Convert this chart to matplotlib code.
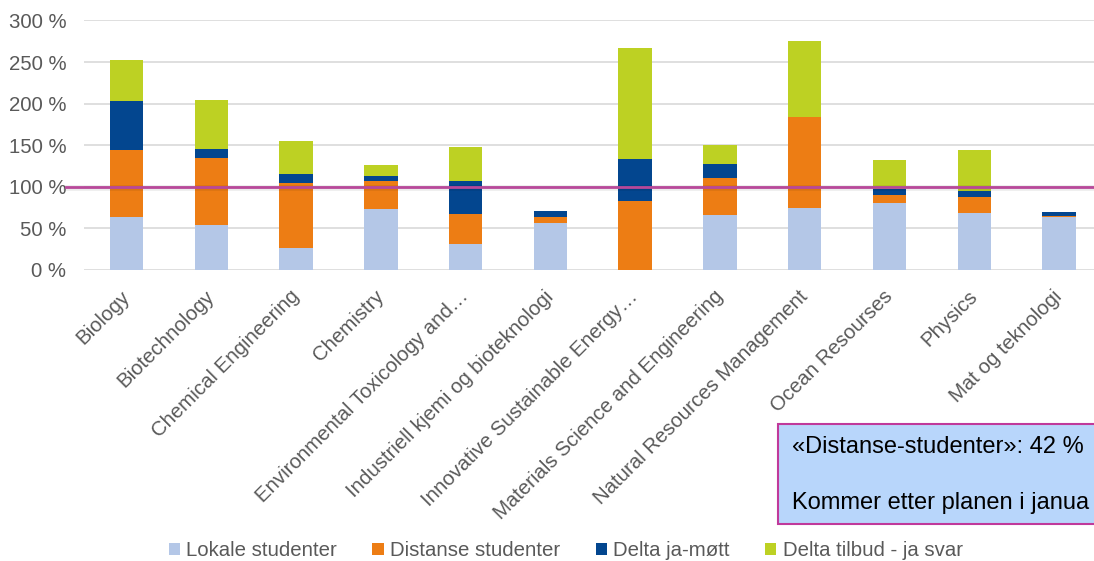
import numpy as np
import matplotlib.pyplot as plt
from matplotlib.patches import Patch, Rectangle
from matplotlib.lines import Line2D

plt.rcParams['font.family'] = ['Liberation Sans', 'DejaVu Sans']

categories = [
    "Biology", "Biotechnology", "Chemical Engineering", "Chemistry",
    "Environmental Toxicology and\u2026", "Industriell kjemi og bioteknologi",
    "Innovative Sustainable Energy\u2026", "Materials Science and Engineering",
    "Natural Resources Management", "Ocean Resourses", "Physics",
    "Mat og teknologi",
]
lokale = [64, 54, 27, 73, 31, 57, 0, 66, 75, 81, 68, 64]
distanse = [80, 81, 78, 34, 36, 7, 83, 45, 109, 9, 20, 0.5]
delta_mott = [59, 10, 11, 6, 40, 7, 50, 17, 0, 7, 7, 5.5]
delta_tilbud = [49, 60, 39, 13, 41, 0, 134, 22, 91, 35, 49, 0]
series_names = ["Lokale studenter", "Distanse studenter", "Delta ja-m\u00f8tt",
                "Delta tilbud - ja svar"]
colors = ["#b4c7e7", "#ed7d14", "#03468f", "#bdd123"]
yticks = [0, 50, 100, 150, 200, 250, 300]

grey = "#595959"


def main():
    W, H = 1094, 561
    fig = plt.figure(figsize=(W / 100, H / 100), dpi=100)
    ax = fig.add_axes([84.2 / W, 1 - 270 / H, (1101.4 - 84.2) / W, (270 - 20.5) / H])

    x = np.arange(len(categories))
    bottom = np.zeros(len(categories))
    for vals, col in zip([lokale, distanse, delta_mott, delta_tilbud], colors):
        vals = np.array(vals, dtype=float)
        ax.bar(x, vals, 0.395, bottom=bottom, color=col, zorder=3)
        bottom += vals

    ax.set_xlim(-0.5, len(categories) - 0.5)
    ax.set_ylim(0, 300)
    ax.set_yticks(yticks)
    ax.set_yticklabels([f"{v} %" for v in yticks])
    ax.grid(axis="y", color="#d9d9d9", lw=1.2, zorder=0)
    for s in ax.spines.values():
        s.set_visible(False)
    ax.tick_params(axis="y", length=0, pad=13, labelsize=14.7, labelcolor=grey)
    ax.tick_params(axis="x", length=0, pad=17, labelsize=14.7, labelcolor=grey)
    ax.set_xticks(x)
    ax.set_xticklabels(categories, rotation=45, ha="right", va="center",
                       rotation_mode="anchor")

    # 100 % reference line with a soft shadow
    ax.add_line(Line2D([-0.72, 12], [98.6, 98.6], color="#000000", alpha=0.08,
                       lw=4, clip_on=False, zorder=4))
    ax.add_line(Line2D([-0.72, 12], [100, 100], color="#b8489a", lw=2,
                       clip_on=False, zorder=5))

    handles = [Patch(facecolor=c, edgecolor="none") for c in colors]
    fig.legend(handles, series_names, loc="center", bbox_to_anchor=(0.517, 0.018),
               ncol=4, frameon=False, fontsize=14.7, labelcolor=grey,
               handlelength=0.55, handleheight=0.55, handletextpad=0.3,
               columnspacing=1.75)

    fig.patches.append(Rectangle((778 / W, 1 - 524 / H), 0.3, 100 / H,
                                 transform=fig.transFigure, facecolor="#b8d6fb",
                                 edgecolor="#c0399b", lw=1.5))
    fig.text(792 / W, 1 - 447 / H, "\u00abDistanse-studenter\u00bb: 42 %",
             fontsize=17, va="center", ha="left", color="black")
    # the reference cuts this line at the right edge of the chart
    fig.text(792 / W, 1 - 503 / H, "Kommer etter planen i janua",
             fontsize=17, va="center", ha="left", color="black")

    fig.savefig("out.png", dpi=100)


if __name__ == "__main__":
    main()
